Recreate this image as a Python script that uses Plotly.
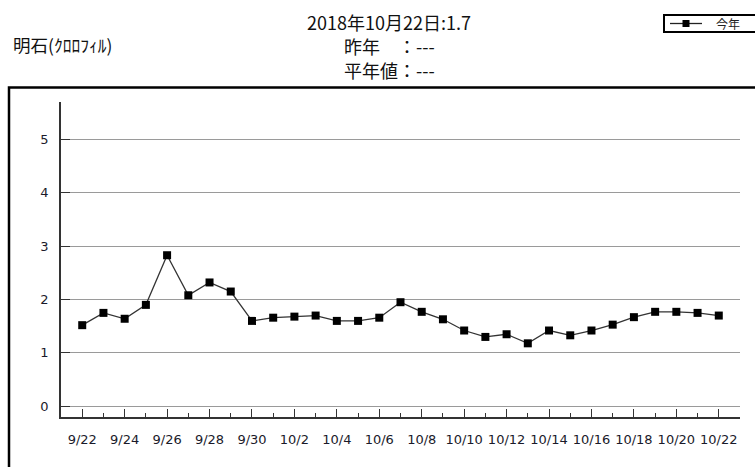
import plotly.graph_objects as go

# ---- data ----
dates = ["9/22", "9/23", "9/24", "9/25", "9/26", "9/27", "9/28", "9/29", "9/30",
         "10/1", "10/2", "10/3", "10/4", "10/5", "10/6", "10/7", "10/8", "10/9",
         "10/10", "10/11", "10/12", "10/13", "10/14", "10/15", "10/16", "10/17",
         "10/18", "10/19", "10/20", "10/21", "10/22"]
values_this_year = [1.52, 1.75, 1.64, 1.90, 2.83, 2.08, 2.32, 2.15, 1.60,
                    1.66, 1.68, 1.70, 1.60, 1.60, 1.66, 1.95, 1.77, 1.63,
                    1.42, 1.30, 1.35, 1.18, 1.42, 1.33, 1.42, 1.53,
                    1.67, 1.77, 1.77, 1.75, 1.70]
y_ticks = [0, 1, 2, 3, 4, 5]
series_name = "今年"
station = "明石(ｸﾛﾛﾌｨﾙ)"
title_lines = ["2018年10月22日:1.7", "昨年　：---", "平年値：---"]

x_idx = list(range(len(dates)))
tick_idx = x_idx[::2]
tick_txt = dates[::2]

W, H = 755, 467
L, R, T, B = 61, 15, 102, 50
pw, ph = W - L - R, H - T - B


def px_x(px):
    return (px - L) / pw


def px_y(py):
    return (H - B - py) / ph


fig = go.Figure()
fig.add_trace(go.Scatter(
    x=x_idx, y=values_this_year, name=series_name, mode="lines+markers",
    line=dict(color="#333333", width=1.3),
    marker=dict(symbol="square", size=8, color="black"),
    showlegend=False,
))

cjk = "Noto Sans CJK JP"
tickfont = dict(family="DejaVu Sans, Verdana", size=13, color="#1a1a2a")

fig.update_layout(
    width=W, height=H,
    margin=dict(l=L, r=R, t=T, b=B, pad=0, autoexpand=False),
    paper_bgcolor="white", plot_bgcolor="white",
    showlegend=False,
    xaxis=dict(range=[-1, 31], tickmode="array", tickvals=tick_idx, ticktext=tick_txt,
               ticks="inside", ticklen=8, tickwidth=1, tickcolor="#333",
               showgrid=False, zeroline=False, showline=True, linecolor="#333",
               linewidth=1.5, tickfont=tickfont, ticklabelstandoff=10,
               minor=dict(tickmode="linear", tick0=-1, dtick=1, ticks="inside",
                          ticklen=4, tickwidth=1, tickcolor="#333", showgrid=False)),
    yaxis=dict(range=[-0.2, 5.7], tickmode="array", tickvals=y_ticks,
               ticks="inside", ticklen=9, tickwidth=1, tickcolor="#333",
               showgrid=True, gridcolor="#9a9a9a", gridwidth=1, zeroline=False,
               showline=True, linecolor="#333", linewidth=1.5,
               tickfont=tickfont, ticklabelstandoff=8),
)

# outer frame (extends beyond the visible page, as in the reference)
fig.add_shape(type="rect", xref="paper", yref="paper",
              x0=px_x(9), x1=px_x(900), y0=px_y(700), y1=px_y(87.5),
              line=dict(color="black", width=2.5), fillcolor="rgba(0,0,0,0)",
              layer="below")

# legend box (drawn manually to match the reference's compact box)
fig.add_shape(type="rect", xref="paper", yref="paper",
              x0=px_x(664), x1=px_x(800), y0=px_y(32), y1=px_y(15),
              line=dict(color="black", width=2), fillcolor="white")
fig.add_shape(type="line", xref="paper", yref="paper",
              x0=px_x(670), x1=px_x(702), y0=px_y(23.5), y1=px_y(23.5),
              line=dict(color="#222", width=1.3))
fig.add_shape(type="rect", xref="paper", yref="paper",
              x0=px_x(682.5), x1=px_x(689.5), y0=px_y(27), y1=px_y(20),
              line=dict(color="black", width=0), fillcolor="black")
fig.add_annotation(text=series_name, xref="paper", yref="paper", x=px_x(714), y=px_y(23.5),
                   xanchor="left", yanchor="middle", showarrow=False,
                   font=dict(family=cjk, size=12, color="#222"))

# title lines
for txt, py in zip(title_lines, [22, 46, 70]):
    fig.add_annotation(text=txt, xref="paper", yref="paper", x=px_x(389), y=px_y(py),
                       xanchor="center", yanchor="middle", showarrow=False,
                       font=dict(family=cjk, size=18, color="#111"))

fig.add_annotation(text=station, xref="paper", yref="paper", x=px_x(11), y=px_y(45),
                   xanchor="left", yanchor="middle", showarrow=False,
                   font=dict(family=cjk, size=17.5, color="#111"))

fig.write_html("out.html", config={"displayModeBar": False},
               post_script="document.body.style.margin='0';document.body.style.overflow='hidden';")
